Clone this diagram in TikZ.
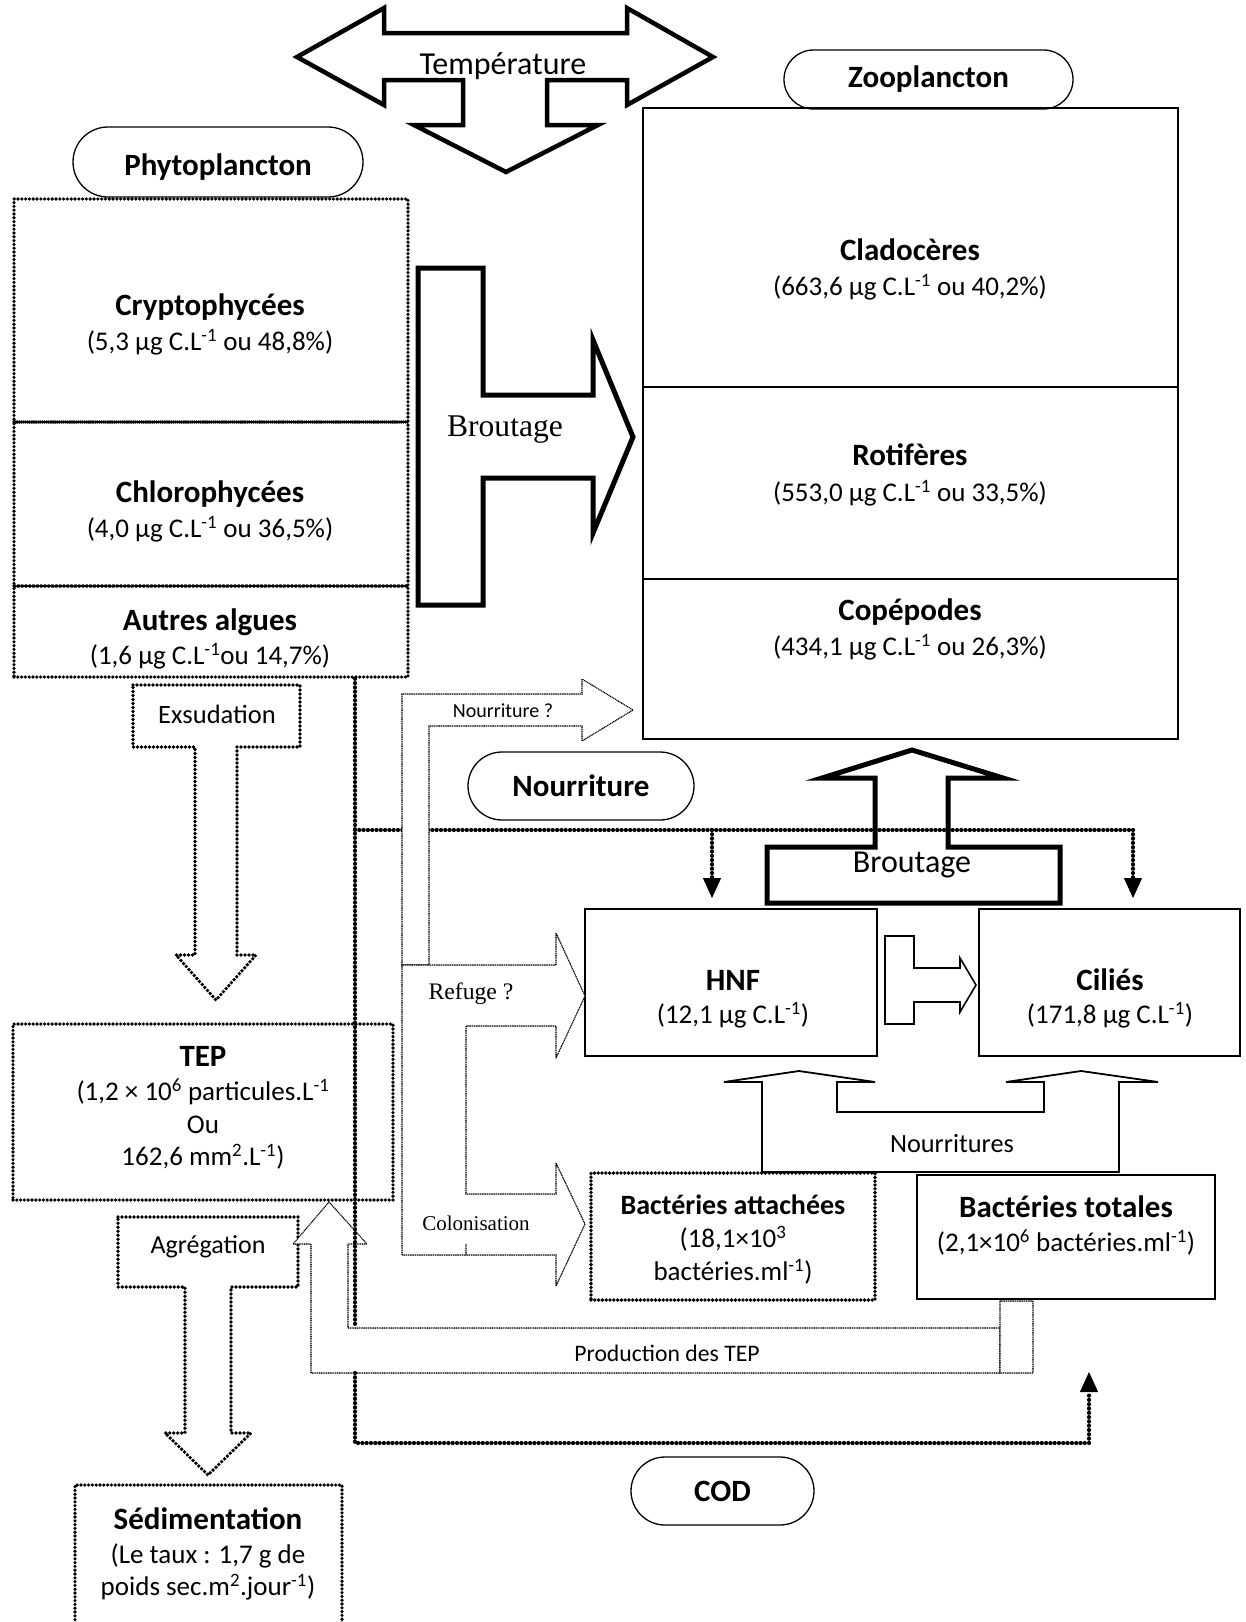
\documentclass[tikz,border=0pt]{standalone}
\usepackage{fontspec}
\setmainfont{Carlito}
\newfontfamily\timesfont{Liberation Serif}
\usetikzlibrary{shapes.misc}
\usetikzlibrary{arrows.meta}
\usetikzlibrary{positioning}
\tikzset{
  pointille/.style={line width=4.2pt, dash pattern=on 0pt off 4.3pt, line cap=round},
  cadre pointille/.style={draw, line width=3.6pt, dash pattern=on 0pt off 3.8pt, line cap=round, inner sep=0pt},
  fin pointille/.style={draw, line width=1.6pt, dash pattern=on 0pt off 1.8pt, line cap=round, fill=white},
  cadre/.style={draw, line width=2pt, inner sep=0pt},
  ovale/.style={rounded rectangle, draw, line width=1.3pt, fill=white, inner sep=0pt,
    font=\fontsize{31}{36}\selectfont\bfseries},
  grosse fleche/.style={draw, line width=5pt, line join=miter, fill=white},
  fleche fine/.style={draw, line width=1.8pt, fill=white},
  titre/.style={font=\fontsize{31}{36}\selectfont\bfseries, inner sep=0pt},
  valeur/.style={font=\fontsize{27}{32.5}\selectfont, inner sep=0pt, align=center},
  pointe/.style={-{Triangle[width=18pt,length=20pt,line width=1pt]}},
}

\begin{document}
\begin{tikzpicture}[x=1pt,y=-1pt]
  \useasboundingbox (0,0) rectangle (1246,1622);
  \clip (0,0) rectangle (1246,1622);
  \fill[white] (0,0) rectangle (1246,1622);

  % temperature
  \draw[grosse fleche, line width=4.5pt] (297,57) -- (384,8) -- (384,33) -- (627,33) -- (627,8) -- (713,57)
    -- (627,105) -- (627,80) -- (547,80) -- (547,125) -- (598,125) -- (506,172) -- (414,125)
    -- (463,125) -- (463,80) -- (384,80) -- (384,105) -- cycle;
  \node[inner sep=0pt, font=\fontsize{32}{36}\selectfont] (temperature) at (503,66) {Température};

  % phytoplancton
  \node[ovale, minimum width=290pt, minimum height=70pt] (phyto) at (218,162) {};
  \node[titre] (phytoT) at (218,167) {Phytoplancton};
  \node[cadre pointille, minimum width=394pt, minimum height=223pt] (crypto) at (211,310.5) {};
  \node[cadre pointille, minimum width=394pt, minimum height=164pt] (chloro) at (211,504) {};
  \node[cadre pointille, minimum width=394pt, minimum height=91pt] (autres) at (211,631.5) {};

  % zooplancton
  \node[ovale, minimum width=289pt, minimum height=59pt] (zoo) at (928.5,79.5) {Zooplancton};
  \node[cadre, line width=2.5pt, minimum width=535pt, minimum height=279pt] (clado) at (910.5,247.5) {};
  \node[cadre, line width=2.5pt, minimum width=535pt, minimum height=192pt] (roti) at (910.5,483) {};
  \node[cadre, line width=2.5pt, minimum width=535pt, minimum height=160pt] (cope) at (910.5,659) {};

  % microbes
  \node[cadre, minimum width=292pt, minimum height=147pt] (hnf) at (731,982.5) {};
  \node[cadre, minimum width=261pt, minimum height=147pt] (cilies) at (1109.5,982.5) {};
  \node[cadre pointille, line width=3.8pt, minimum width=284pt, minimum height=127pt] (battach) at (733,1236.5) {};
  \node[cadre, minimum width=298pt, minimum height=124pt] (btot) at (1066,1237) {};
  \node[ovale, minimum width=226pt, minimum height=68pt] (nourr) at (581,786) {Nourriture};
  \node[ovale, minimum width=183pt, minimum height=68pt] (cod) at (722.5,1491) {COD};

  % TEP et sedimentation
  \node[cadre pointille, minimum width=380pt, minimum height=176pt] (tep) at (203,1112) {};
  \node[cadre pointille, minimum width=267pt, minimum height=175pt] (sedim) at (208.5,1572.5) {};

  % broutage
  \draw[grosse fleche] (418,268) -- (483,268) -- (483,395) -- (593,395) -- (593,340) -- (633,437)
    -- (593,533) -- (593,478) -- (483,478) -- (483,605) -- (418,605) -- cycle;
  \draw[grosse fleche] (767,903) -- (767,847) -- (875,847) -- (875,778) -- (822,778) -- (912,750)
    -- (1003,778) -- (948,778) -- (948,847) -- (1060,847) -- (1060,903) -- cycle;

  % exsudation, agregation
  \draw[pointille, line width=3.8pt, dash pattern=on 0pt off 4pt] (133,685) -- (300,685) -- (300,747) -- (237,747)
    -- (237,955) -- (256,955) -- (216,1000) -- (176,955) -- (195,955) -- (195,747) -- (133,747) -- cycle;
  \draw[pointille, line width=3.8pt, dash pattern=on 0pt off 4pt] (118,1217) -- (298,1217) -- (298,1287) -- (231,1287)
    -- (231,1433) -- (251,1433) -- (208,1475) -- (165,1433) -- (185,1433) -- (185,1287) -- (118,1287) -- cycle;

  % fleches fines
  \draw[fleche fine, line width=1.6pt] (885,936) -- (914,936) -- (914,968) -- (960,968) -- (960,958) -- (976,985)
    -- (960,1012) -- (960,1002) -- (914,1002) -- (914,1024) -- (885,1024) -- cycle;
  \draw[fleche fine] (762,1172) -- (762,1082) -- (724,1082) -- (799,1071) -- (875,1082) -- (837,1082)
    -- (837,1112) -- (1044,1112) -- (1044,1082) -- (1006,1082) -- (1081,1071) -- (1158,1082)
    -- (1119,1082) -- (1119,1172) -- cycle;

  % production des TEP
  \draw[fin pointille] (329,1202) -- (367,1244) -- (348,1244) -- (348,1328) -- (1000,1328) -- (1000,1373)
    -- (311,1373) -- (311,1244) -- (293,1244) -- cycle;
  \draw[fin pointille] (1000,1301) rectangle (1033,1373);

  % COD
  \coordinate (v1) at (355,830);
  \coordinate (h1) at (712,830);
  \coordinate (h2) at (1133,830);
  \coordinate (v2) at (355,1328);
  \coordinate (v3) at (355,1373);
  \coordinate (v4) at (355,1443);
  \coordinate (v5) at (1089,1443);
  \coordinate (codfin) at (1089,1372);
  \draw[pointille] (autres.south -| v1) -- (v2);
  \draw[pointille] (v1) -- (h2);
  \draw[pointille, pointe] (h1) -- ([yshift=10pt]hnf.north -| h1);
  \draw[pointille, pointe] (h2) -- ([yshift=10pt]cilies.north -| h2);
  \draw[pointille, pointe] (v3) -- (v4) -- (v5) -- (codfin);

  % nourriture, refuge, colonisation
  \draw[fin pointille] (402,694) -- (582,694) -- (582,679) -- (633,710) -- (582,741) -- (582,726)
    -- (429,726) -- (429,965) -- (402,965) -- cycle;
  \draw[fin pointille] (402,965) -- (556,965) -- (556,933) -- (585,996) -- (556,1058) -- (556,1026)
    -- (466,1026) -- (466,1194) -- (556,1194) -- (556,1163) -- (585,1224) -- (556,1286)
    -- (556,1255) -- (402,1255) -- cycle;
  \draw[fin pointille] (466,1245) -- (466,1255);

  % textes
  \node[titre] (cryptoT) at (210,307) {Cryptophycées};
  \node[valeur] (cryptoV) at (210,342) {(5,3 µg C.L\textsuperscript{-1} ou 48,8\%)};
  \node[titre] (chloroT) at (210,494) {Chlorophycées};
  \node[valeur] (chloroV) at (210,529) {(4,0 µg C.L\textsuperscript{-1} ou 36,5\%)};
  \node[titre] (autresT) at (210,622) {Autres algues};
  \node[valeur] (autresV) at (210,656) {(1,6 µg C.L\textsuperscript{-1}ou 14,7\%)};

  \node[titre] (cladoT) at (910,250) {Cladocères};
  \node[valeur] (cladoV) at (910,287) {(663,6 µg C.L\textsuperscript{-1} ou 40,2\%)};
  \node[titre] (rotiT) at (910,455) {Rotifères};
  \node[valeur] (rotiV) at (910,493) {(553,0 µg C.L\textsuperscript{-1} ou 33,5\%)};
  \node[titre] (copeT) at (910,612) {Copépodes};
  \node[valeur] (copeV) at (910,647) {(434,1 µg C.L\textsuperscript{-1} ou 26,3\%)};

  \node[titre] (hnfT) at (733,980) {HNF};
  \node[valeur] (hnfV) at (733,1015) {(12,1 µg C.L\textsuperscript{-1})};
  \node[titre] (ciliesT) at (1110,980) {Ciliés};
  \node[valeur] (ciliesV) at (1110,1015) {(171,8 µg C.L\textsuperscript{-1})};

  \node[titre] (tepT) at (203,1056) {TEP};
  \node[valeur] (tepV) at (203,1124) {(1,2 × 10\textsuperscript{6} particules.L\textsuperscript{-1}\\Ou\\162,6 mm\textsuperscript{2}.L\textsuperscript{-1})};
  \node[titre, font=\fontsize{28}{32}\selectfont\bfseries] (battachT) at (733,1205) {Bactéries attachées};
  \node[valeur] (battachV) at (733,1255) {(18,1×10\textsuperscript{3}\\bactéries.ml\textsuperscript{-1})};
  \node[titre] (btotT) at (1066,1207) {Bactéries totales};
  \node[valeur] (btotV) at (1066,1242) {(2,1×10\textsuperscript{6} bactéries.ml\textsuperscript{-1})};
  \node[titre] (sedimT) at (208,1519) {Sédimentation};
  \node[valeur] (sedimV) at (208,1572) {(Le taux : 1,7 g de\\poids sec.m\textsuperscript{2}.jour\textsuperscript{-1})};

  \node[inner sep=0pt, font=\timesfont\fontsize{31.6}{36}\selectfont] (broutage1) at (505,430) {Broutage};
  \node[inner sep=0pt, font=\fontsize{32}{36}\selectfont] (broutage2) at (912,865) {Broutage};
  \node[inner sep=0pt, font=\fontsize{20}{24}\selectfont] (nourrQ) at (503,711) {Nourriture ?};
  \node[inner sep=0pt, font=\fontsize{26.5}{30}\selectfont] (exsud) at (217,714) {Exsudation};
  \node[inner sep=0pt, font=\timesfont\fontsize{23.7}{28}\selectfont] (refuge) at (471,994) {Refuge ?};
  \node[inner sep=0pt, font=\timesfont\fontsize{21}{24}\selectfont] (colon) at (476,1223) {Colonisation};
  \node[inner sep=0pt, font=\fontsize{26.3}{30}\selectfont] (nourritures) at (952,1144) {Nourritures};
  \node[inner sep=0pt, font=\fontsize{26}{30}\selectfont] (agreg) at (208,1247) {Agrégation};
  \node[inner sep=0pt, font=\fontsize{23.7}{28}\selectfont] (prod) at (667,1353) {Production des TEP};
\end{tikzpicture}
\end{document}
